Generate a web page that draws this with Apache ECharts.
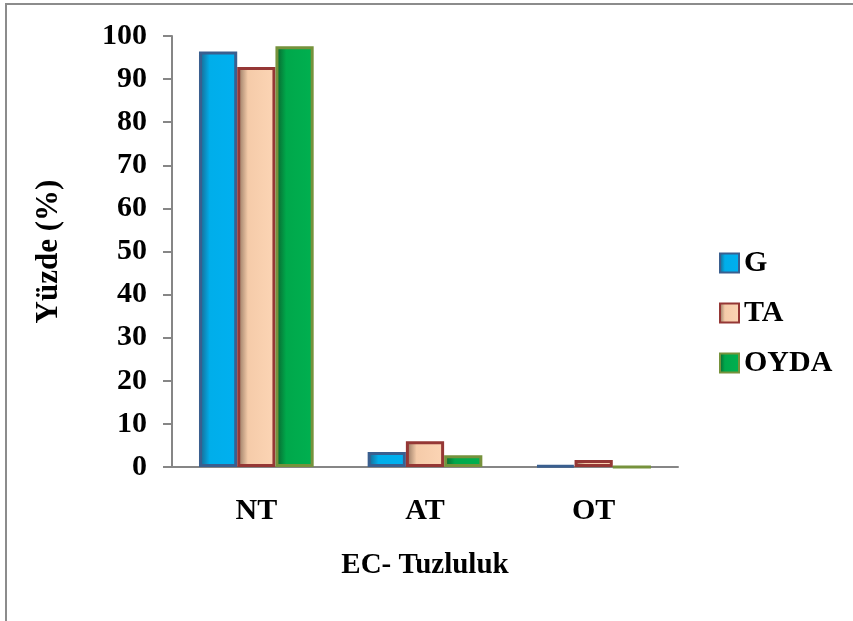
<!DOCTYPE html>
<html>
<head>
<meta charset="utf-8">
<script src="https://cdn.jsdelivr.net/npm/echarts@6/dist/echarts.min.js"></script>
<style>
  html, body { margin: 0; padding: 0; background: #fff; }
  #chart { width: 853px; height: 621px; }
</style>
</head>
<body>
<div id="chart"></div>
<script>
// EC salinity classes and the share (%) of samples in each, per group
const categories = ['NT', 'AT', 'OT'];
const seriesNames = ['G', 'TA', 'OYDA'];
const valuesG = [96.4, 3.5, 0.3];
const valuesTA = [92.8, 6.0, 1.6];
const valuesOYDA = [97.6, 2.7, 0];
const yTicks = [0, 10, 20, 30, 40, 50, 60, 70, 80, 90, 100];

const FONT = '"Liberation Serif", "Times New Roman", serif';

// fill: dark shade on the left edge fading into the main colour
function shade(dark, mid, light) {
  return new echarts.graphic.LinearGradient(0, 0, 1, 0, [
    { offset: 0, color: dark },
    { offset: 0.28, color: mid },
    { offset: 1, color: light }
  ]);
}

const styles = [
  { border: '#3a5f8f', fill: shade('#1f5f85', '#00aeea', '#00b0f0') },
  { border: '#953735', fill: shade('#8a6e5a', '#f5cba9', '#fcd5b5') },
  { border: '#76923c', fill: shade('#0b5e2c', '#00a84b', '#00b050') }
];

const dataSets = [valuesG, valuesTA, valuesOYDA];

const chart = echarts.init(document.getElementById('chart'), null, { renderer: 'canvas' });

chart.setOption({
  animation: false,
  backgroundColor: '#ffffff',
  graphic: [{
    type: 'rect',
    shape: { x: 6, y: 4, width: 900, height: 700 },
    style: { fill: 'none', stroke: '#8c8c8c', lineWidth: 2 },
    silent: true
  }],
  grid: { left: 172, right: 175, top: 36, bottom: 154, containLabel: false },
  legend: {
    orient: 'vertical',
    left: 719,
    top: 248,
    padding: 0,
    itemWidth: 19,
    itemHeight: 19,
    itemGap: 20,
    icon: 'rect',
    data: seriesNames,
    textStyle: { fontFamily: FONT, fontWeight: 'bold', fontSize: 30, lineHeight: 30, color: '#000', padding: [0, 0, 0, 0] }
  },
  xAxis: {
    type: 'category',
    data: categories,
    name: 'EC- Tuzluluk',
    nameLocation: 'middle',
    nameGap: 84,
    nameTextStyle: { fontFamily: FONT, fontWeight: 'bold', fontSize: 29, color: '#000' },
    axisLine: { lineStyle: { color: '#868686', width: 2 } },
    axisTick: { show: false },
    axisLabel: { margin: 29, fontFamily: FONT, fontWeight: 'bold', fontSize: 30, color: '#000' }
  },
  yAxis: {
    type: 'value',
    min: 0,
    max: 100,
    interval: 10,
    name: 'Yüzde (%)',
    nameLocation: 'middle',
    nameGap: 108,
    nameTextStyle: { fontFamily: FONT, fontWeight: 'bold', fontSize: 31, color: '#000' },
    axisLine: { show: true, lineStyle: { color: '#868686', width: 2 } },
    axisTick: { show: true, inside: false, length: 9, lineStyle: { color: '#868686', width: 2 } },
    splitLine: { show: false },
    axisLabel: {
      margin: 25,
      fontFamily: FONT, fontWeight: 'bold', fontSize: 30, color: '#000',
      formatter: v => (yTicks.indexOf(v) >= 0 ? String(v) : '')
    }
  },
  series: seriesNames.map((name, i) => ({
    name: name,
    type: 'bar',
    data: dataSets[i],
    barGap: '0%',
    barCategoryGap: '32%',
    itemStyle: {
      color: styles[i].fill,
      borderColor: styles[i].border,
      borderWidth: 3
    }
  }))
});
</script>
</body>
</html>
